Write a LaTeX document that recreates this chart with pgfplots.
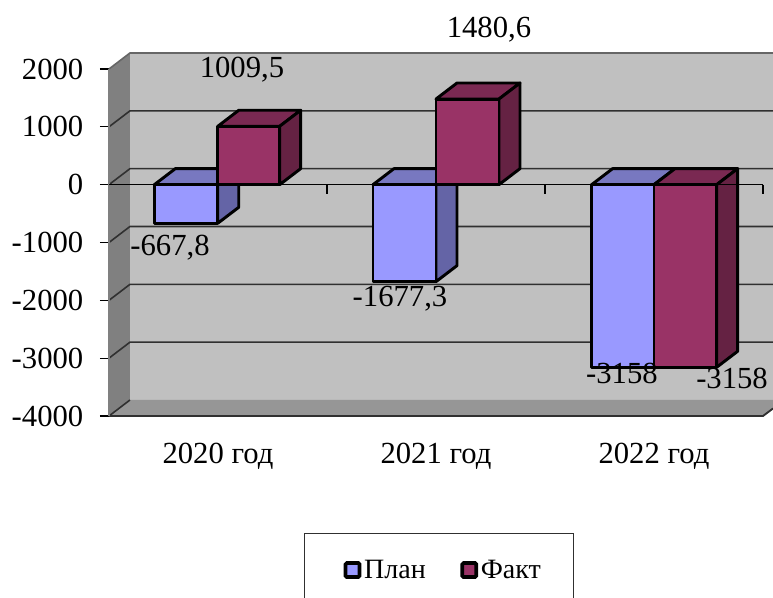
\documentclass[border=0pt]{standalone}
\usepackage{pgfplots}
\pgfplotsset{compat=1.18}
\usepackage{fontspec}
\setmainfont{Liberation Serif}
\definecolor{planfront}{HTML}{9999FF}
\definecolor{plantop}{HTML}{7878C0}
\definecolor{planside}{HTML}{6464A6}
\definecolor{factfront}{HTML}{993366}
\definecolor{facttop}{HTML}{7A2952}
\definecolor{factside}{HTML}{652243}
\definecolor{wall}{HTML}{C0C0C0}
\definecolor{sidewall}{HTML}{808080}
\definecolor{floorc}{HTML}{969696}
\definecolor{gridc}{HTML}{303030}
\tikzset{
  box/.style={draw=black, line width=2.2pt, line join=round},
  grid line/.style={draw=gridc, line width=1.2pt},
}
\newcommand{\lab}{\fontsize{23}{25}\selectfont}
\newcommand{\leglab}{\fontsize{21}{23}\selectfont}
\begin{document}
\begin{tikzpicture}
  \path[use as bounding box] (0,0) rectangle (579.75pt,448.5pt);
  \begin{axis}[
    at={(81.75pt,136.5pt)},
    anchor=south west,
    scale only axis,
    width=498pt,
    height=260.25pt,
    xmin=0.5, xmax=3.546,
    ymin=-4000, ymax=2000,
    clip=false,
    axis line style={draw=none},
    xtick={1,2,3},
    xticklabels={2020 год,2021 год,2022 год},
    xtick pos=bottom,
    x tick label style={font=\lab, yshift=-10pt},
    x tick style={draw=none},
    ytick={-4000,-3000,-2000,-1000,0,1000,2000},
    yticklabels={-4000,-3000,-2000,-1000,0,1000,2000},
    ytick pos=left,
    tick align=outside,
    major tick length=6.75pt,
    y tick style={draw=black, line width=0.9pt},
    y tick label style={font=\lab, xshift=-9pt},
    legend columns=2,
    legend style={
      draw=none, fill=none, font=\leglab,
      at={(axis cs:2.035,-6670)}, anchor=center,
      inner sep=0pt, outer sep=0pt,
      /tikz/every even column/.append style={column sep=24pt},
    },
    legend image code/.code={
      \draw[#1, line width=2.8pt, rounded corners=1pt] (0pt,-5pt) rectangle (10.5pt,5.5pt);
    },
  ]
    % walls and floor
    \addplot[forget plot, fill=wall, draw=none] coordinates {(0.5963,-3723) (3.546,-3723) (3.546,2277) (0.5963,2277)} -- cycle;
    \addplot[forget plot, fill=sidewall, draw=none] coordinates {(0.5,-4000) (0.5963,-3723) (0.5963,2277) (0.5,2000)} -- cycle;
    \addplot[forget plot, fill=floorc, draw=none] coordinates {(0.5,-4000) (3.5,-4000) (3.546,-3870) (3.546,-3723) (0.5963,-3723)} -- cycle;

    % grid lines, front edge to back wall
    \addplot[forget plot, grid line, draw=gray!80!black] coordinates {(0.5,2000) (0.5963,2277) (3.546,2277)};
    \addplot[forget plot, grid line] coordinates {(0.5,1000) (0.5963,1277) (3.546,1277)};
    \addplot[forget plot, grid line] coordinates {(0.5,0) (0.5963,277) (3.546,277)};
    \addplot[forget plot, grid line] coordinates {(0.5,-1000) (0.5963,-723) (3.546,-723)};
    \addplot[forget plot, grid line] coordinates {(0.5,-2000) (0.5963,-1723) (3.546,-1723)};
    \addplot[forget plot, grid line] coordinates {(0.5,-3000) (0.5963,-2723) (3.546,-2723)};
    \addplot[forget plot, grid line] coordinates {(0.5,-4000) (0.5963,-3723)};
    \addplot[forget plot, draw=gridc, line width=1.4pt] coordinates {(0.5,-4000) (3.5,-4000) (3.546,-3870)};
    \addplot[forget plot, draw=gray, line width=0.8pt] coordinates {(0.5,-4000) (0.5,2000)};

    % 2020
    \addplot[forget plot, box, fill=plantop] coordinates {(0.708,0) (0.999,0) (1.0953,277) (0.8043,277)} -- cycle;
    \addplot[forget plot, box, fill=planside] coordinates {(0.999,0) (1.0953,277) (1.0953,-390.8) (0.999,-667.8)} -- cycle;
    \addplot[forget plot, box, fill=planfront] coordinates {(0.708,0) (0.999,0) (0.999,-667.8) (0.708,-667.8)} -- cycle;
    \addplot[forget plot, box, fill=facttop] coordinates {(0.999,1009.5) (1.283,1009.5) (1.3793,1286.5) (1.0953,1286.5)} -- cycle;
    \addplot[forget plot, box, fill=factside] coordinates {(1.283,0) (1.3793,277) (1.3793,1286.5) (1.283,1009.5)} -- cycle;
    \addplot[forget plot, box, fill=factfront] coordinates {(0.999,0) (1.283,0) (1.283,1009.5) (0.999,1009.5)} -- cycle;

    % 2021
    \addplot[forget plot, box, fill=plantop] coordinates {(1.711,0) (2,0) (2.0963,277) (1.8073,277)} -- cycle;
    \addplot[forget plot, box, fill=planside] coordinates {(2,0) (2.0963,277) (2.0963,-1400.3) (2,-1677.3)} -- cycle;
    \addplot[forget plot, box, fill=planfront] coordinates {(1.711,0) (2,0) (2,-1677.3) (1.711,-1677.3)} -- cycle;
    \addplot[forget plot, box, fill=facttop] coordinates {(2,1480.6) (2.289,1480.6) (2.3853,1757.6) (2.0963,1757.6)} -- cycle;
    \addplot[forget plot, box, fill=factside] coordinates {(2.289,0) (2.3853,277) (2.3853,1757.6) (2.289,1480.6)} -- cycle;
    \addplot[forget plot, box, fill=factfront] coordinates {(2,0) (2.289,0) (2.289,1480.6) (2,1480.6)} -- cycle;

    % 2022
    \addplot[forget plot, box, fill=plantop] coordinates {(2.714,0) (3,0) (3.0963,277) (2.8103,277)} -- cycle;
    \addplot[forget plot, box, fill=planfront] coordinates {(2.714,0) (3,0) (3,-3158) (2.714,-3158)} -- cycle;
    \addplot[forget plot, box, fill=facttop] coordinates {(3,0) (3.2875,0) (3.3838,277) (3.0963,277)} -- cycle;
    \addplot[forget plot, box, fill=factside] coordinates {(3.2875,0) (3.3838,277) (3.3838,-2881) (3.2875,-3158)} -- cycle;
    \addplot[forget plot, box, fill=factfront] coordinates {(3,0) (3.2875,0) (3.2875,-3158) (3,-3158)} -- cycle;

    % zero line with its ticks
    \addplot[forget plot, draw=black, line width=1.2pt] coordinates {(0.5,0) (3.5,0)};
    \addplot[forget plot, draw=black, line width=0.9pt] coordinates {(1.5,0) (1.5,-155)};
    \addplot[forget plot, draw=black, line width=0.9pt] coordinates {(2.5,0) (2.5,-155)};
    \addplot[forget plot, draw=black, line width=0.9pt] coordinates {(3.5,0) (3.5,-155)};

    % value labels
    \node[font=\lab] at (axis cs:1.110,1990) {1009,5};
    \node[font=\lab] at (axis cs:2.243,2680) {1480,6};
    \node[font=\lab] at (axis cs:0.780,-1090) {-667,8};
    \node[font=\lab] at (axis cs:1.835,-1980) {-1677,3};
    \node[font=\lab] at (axis cs:2.853,-3270) {-3158};
    \node[font=\lab] at (axis cs:3.358,-3355) {-3158};

    % legend frame runs off the bottom of the page
    \draw[draw=gridc, line width=0.8pt] (axis cs:1.398,-7163) -- (axis cs:1.398,-6036) -- (axis cs:2.63,-6036) -- (axis cs:2.63,-7163);

    \addlegendimage{draw=black, fill=planfront}
    \addlegendentry{План}
    \addlegendimage{draw=black, fill=factfront}
    \addlegendentry{Факт}
  \end{axis}
\end{tikzpicture}
\end{document}
